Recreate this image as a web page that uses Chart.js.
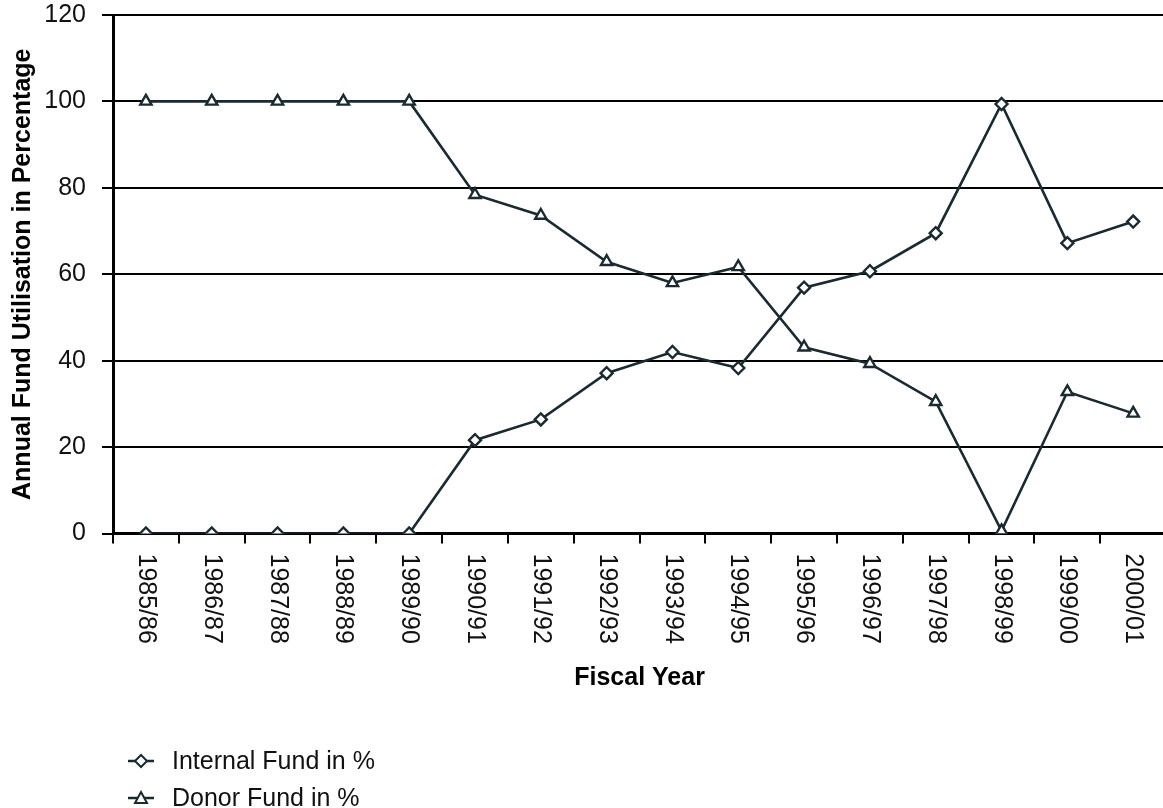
<!DOCTYPE html>
<html>
<head>
<meta charset="utf-8">
<script src="https://cdn.jsdelivr.net/npm/chart.js"></script>
<style>
  html, body { margin: 0; background: #fff; overflow: hidden; }
  #wrap { position: relative; width: 1175px; height: 808px; }
  #legend {
    position: absolute; left: 128px; top: 742px;
    font-family: "Liberation Sans", Arial, sans-serif; font-size: 25px; color: #111;
  }
  .item { display: flex; align-items: center; height: 37px; }
  .item svg { margin-right: 18px; }
</style>
</head>
<body>
<div id="wrap">
  <canvas id="js--chart"></canvas>
  <div id="legend"></div>
</div>
<script>
// jaren (categorieen)
const years = [
    "1985/86", "1986/87", "1987/88", "1988/89", "1989/90", "1990/91",
    "1991/92", "1992/93", "1993/94", "1994/95", "1995/96", "1996/97",
    "1997/98", "1998/99", "1999/00", "2000/01",
];

const internalFund = [0, 0, 0, 0, 0, 21.6, 26.4, 37.1, 42.0, 38.3, 56.9, 60.7, 69.5, 99.4, 67.2, 72.2];
const donorFund = [100, 100, 100, 100, 100, 78.4, 73.6, 62.9, 58.0, 61.7, 43.1, 39.3, 30.5, 0.6, 32.8, 27.8];

const seriesNames = ["Internal Fund in %", "Donor Fund in %"];
const yTicks = [0, 20, 40, 60, 80, 100, 120];

const lineColor = '#1b2a2f';
const fontFam = '"Liberation Sans", Arial, sans-serif';

// labels onder de x-as, met de klok mee gedraaid
const rotatedLabels = {
    id: 'rotatedLabels',
    afterDraw(chart) {
        const xs = chart.scales.x;
        const ctx = chart.ctx;
        ctx.save();
        ctx.font = '25px ' + fontFam;
        ctx.fillStyle = '#111';
        ctx.textAlign = 'left';
        ctx.textBaseline = 'middle';
        years.forEach(function (lab, i) {
            ctx.save();
            ctx.translate(xs.getPixelForValue(i), xs.top + 20);
            ctx.rotate(Math.PI / 2);
            ctx.fillText(lab, 0, 0);
            ctx.restore();
        });
        ctx.restore();
    }
};

const data = {
    labels: years,
    datasets: [
        {
            label: seriesNames[0],
            data: internalFund,
            borderColor: lineColor,
            borderWidth: 2.6,
            pointStyle: 'rectRot',
            pointRadius: 6,
            pointBackgroundColor: '#fff',
            pointBorderColor: lineColor,
            pointBorderWidth: 2.4,
        },
        {
            label: seriesNames[1],
            data: donorFund,
            borderColor: lineColor,
            borderWidth: 2.6,
            pointStyle: 'triangle',
            pointRadius: 6.5,
            pointBackgroundColor: '#fff',
            pointBorderColor: lineColor,
            pointBorderWidth: 2.4,
        }
    ]
};

const config = {
    type: 'line',
    data: data,
    plugins: [rotatedLabels],
    options: {
        responsive: true,
        maintainAspectRatio: false,
        animation: false,
        layout: { padding: { left: 0, right: 1.5, top: 15, bottom: 114.5 } },
        plugins: {
            legend: { display: false },
            tooltip: { enabled: false }
        },
        scales: {
            x: {
                offset: true,
                grid: { offset: true, drawOnChartArea: false, drawTicks: true, tickLength: 10, color: '#000', lineWidth: 2 },
                border: { color: '#000', width: 3 },
                ticks: { color: 'rgba(0,0,0,0)', font: { size: 25, family: fontFam }, minRotation: 90, maxRotation: 90, padding: 12, autoSkip: false },
                title: { display: true, text: 'Fiscal Year', color: '#000', font: { size: 25, weight: 'bold', family: fontFam }, padding: { top: 20, bottom: 0 } },
                afterFit: function (scale) {
                    scale.height = 160;
                    scale.paddingLeft = 0;
                    scale.paddingRight = 0;
                }
            },
            y: {
                min: 0,
                max: 120,
                afterBuildTicks: function (axis) { axis.ticks = yTicks.map(function (v) { return { value: v }; }); },
                grid: { color: '#000', lineWidth: 2, tickLength: 11 },
                border: { color: '#000', width: 3 },
                ticks: { color: '#111', font: { size: 25, family: fontFam }, padding: 16 },
                title: { display: true, text: 'Annual Fund Utilisation in Percentage', color: '#000', font: { size: 25, weight: 'bold', family: fontFam }, padding: { top: 8, bottom: 4 } },
                afterFit: function (scale) {
                    scale.width = 113;
                    scale.paddingTop = 0;
                    scale.paddingBottom = 0;
                }
            }
        }
    }
};

new Chart(document.getElementById("js--chart"), config);

// legenda onderaan
const markers = [
    '<polygon points="13,2 19,8 13,14 7,8" fill="#fff" stroke="' + lineColor + '" stroke-width="2"/>',
    '<polygon points="13,2 19,13 7,13" fill="#fff" stroke="' + lineColor + '" stroke-width="2"/>'
];
document.getElementById("legend").innerHTML = seriesNames.map(function (name, i) {
    return '<div class="item"><svg width="26" height="16"><line x1="0" y1="8" x2="26" y2="8" stroke="' + lineColor + '" stroke-width="2.5"/>' +
        markers[i] + '</svg><span>' + name + '</span></div>';
}).join('');
</script>
</body>
</html>
